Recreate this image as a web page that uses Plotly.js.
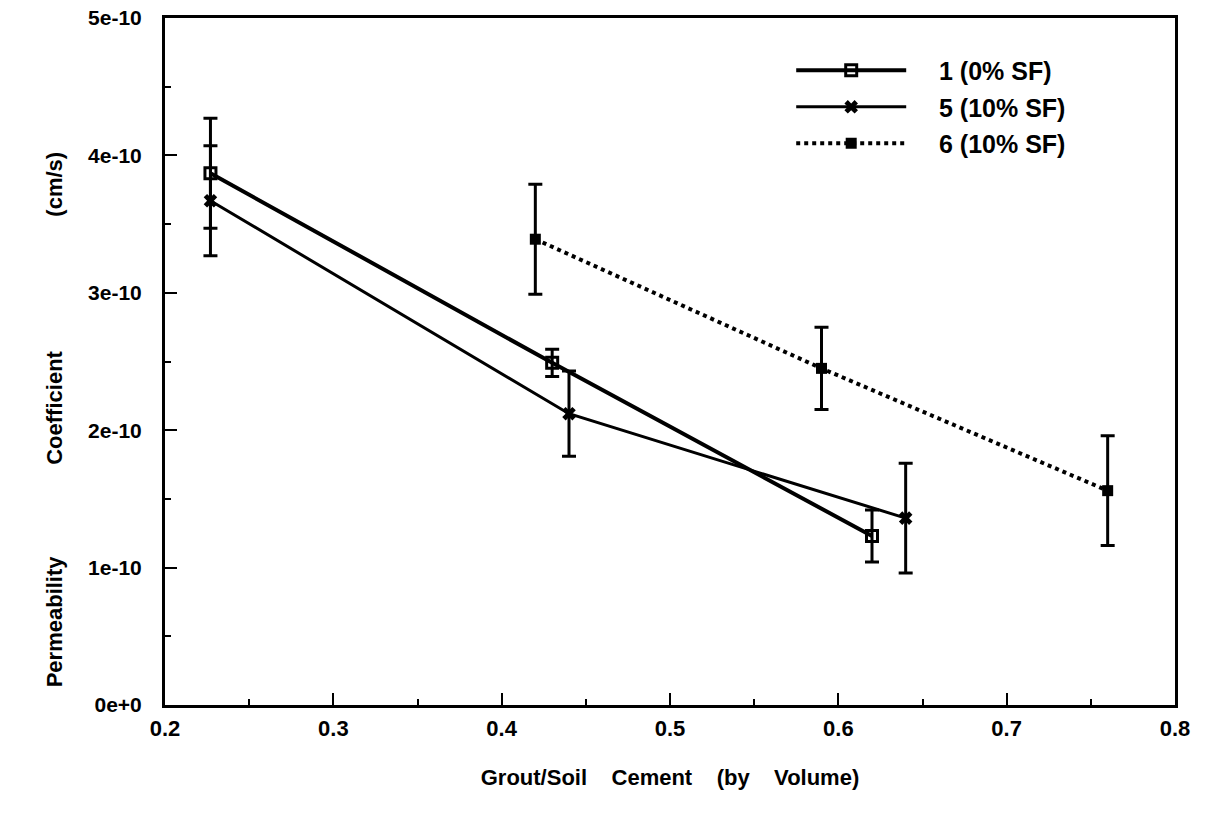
<!DOCTYPE html>
<html>
<head>
<meta charset="utf-8">
<script src="https://cdn.plot.ly/plotly-3.0.1.min.js"></script>
<style>html,body{margin:0;padding:0;background:#fff;}#chart{width:1205px;height:824px;}</style>
</head>
<body>
<div id="chart"></div>
<script>
// Series names
const names = ["1 (0% SF)", "5 (10% SF)", "6 (10% SF)"];
// Grout/Soil Cement ratio (by volume)
const x1 = [0.227, 0.43, 0.62];
const x5 = [0.227, 0.44, 0.64];
const x6 = [0.42, 0.59, 0.76];
// Permeability coefficient (cm/s)
const y1 = [3.87e-10, 2.49e-10, 1.23e-10];
const y5 = [3.67e-10, 2.12e-10, 1.36e-10];
const y6 = [3.39e-10, 2.45e-10, 1.56e-10];
// Error bar half-lengths (cm/s)
const e1 = [0.40e-10, 0.10e-10, 0.19e-10];
const e5 = [0.40e-10, 0.31e-10, 0.40e-10];
const e6 = [0.40e-10, 0.30e-10, 0.40e-10];
// Tick labels
const yTickVals = [0, 1e-10, 2e-10, 3e-10, 4e-10, 5e-10];
const yTickText = ["0e+0", "1e-10", "2e-10", "3e-10", "4e-10", "5e-10"];
const xTickVals = [0.2, 0.3, 0.4, 0.5, 0.6, 0.7, 0.8];
const xTickText = ["0.2", "0.3", "0.4", "0.5", "0.6", "0.7", "0.8"];

const FONT = "Liberation Sans, Arial, Helvetica, sans-serif";
const nb = (n) => "\u00a0".repeat(n);
const err = (a) => ({type: "data", array: a, visible: true, color: "#000", thickness: 3, width: 7});

const traces = [
  {x: x1, y: y1, name: "\u200b" + nb(4) + names[0], legendgroup: "a", type: "scatter", mode: "lines+markers",
   line: {color: "#000", width: 4}, marker: {symbol: "square-open", size: 11, color: "#000", line: {width: 3, color: "#000"}},
   error_y: err(e1)},
  {x: x5, y: y5, name: "\u200b" + nb(4) + names[1], legendgroup: "b", type: "scatter", mode: "lines+markers",
   line: {color: "#000", width: 3}, marker: {symbol: "x", size: 12, color: "#000", line: {width: 0}},
   error_y: err(e5)},
  {x: x6, y: y6, name: "\u200b" + nb(4) + names[2], legendgroup: "c", type: "scatter", mode: "lines+markers",
   line: {color: "#000", width: 4, dash: "dot"}, marker: {symbol: "square", size: 11, color: "#000"},
   error_y: err(e6)}
];

const yTitle = "Permeability" + nb(15) + "Coefficient" + nb(22) + "(cm/s)" + nb(19) + "\u200b";
const xTitle = "Grout/Soil" + nb(4) + "Cement" + nb(4) + "(by" + nb(4) + "Volume)";

const layout = {
  width: 1205, height: 824,
  paper_bgcolor: "#fff", plot_bgcolor: "#fff",
  margin: {l: 165, r: 30, t: 18, b: 119},
  font: {family: FONT, color: "#000", size: 19},
  showlegend: true,
  legend: {x: 0.62, y: 0.957, xanchor: "left", yanchor: "top", bgcolor: "rgba(0,0,0,0)",
    font: {family: FONT, size: 25, weight: "bold", color: "#000"}, itemwidth: 110,
    traceorder: "grouped", tracegroupgap: 1},
  xaxis: {
    range: [0.2, 0.8], tickvals: xTickVals, ticktext: xTickText,
    showgrid: false, zeroline: false, showline: true, linewidth: 3, linecolor: "#000", mirror: true,
    ticks: "inside", ticklen: 12, tickwidth: 2, tickcolor: "#000",
    minor: {ticks: "inside", ticklen: 6, tickwidth: 2, dtick: 0.05, tickcolor: "#000", showgrid: false},
    tickfont: {family: FONT, size: 22, weight: "bold", color: "#000"}, ticklabelstandoff: 2,
    title: {text: xTitle, standoff: 30,
      font: {family: FONT, size: 22, weight: "bold", color: "#000"}}
  },
  yaxis: {
    range: [0, 5e-10], tickvals: yTickVals, ticktext: yTickText,
    showgrid: false, zeroline: false, showline: true, linewidth: 3, linecolor: "#000", mirror: true,
    ticks: "inside", ticklen: 12, tickwidth: 2, tickcolor: "#000",
    minor: {ticks: "inside", ticklen: 6, tickwidth: 2, dtick: 0.5e-10, tickcolor: "#000", showgrid: false},
    tickfont: {family: FONT, size: 21, weight: "bold", color: "#000"}, ticklabelstandoff: 16,
    title: {text: yTitle, standoff: 20,
      font: {family: FONT, size: 22, weight: "bold", color: "#000"}}
  }
};

Plotly.newPlot("chart", traces, layout, {displayModeBar: false, staticPlot: true});
</script>
</body>
</html>
